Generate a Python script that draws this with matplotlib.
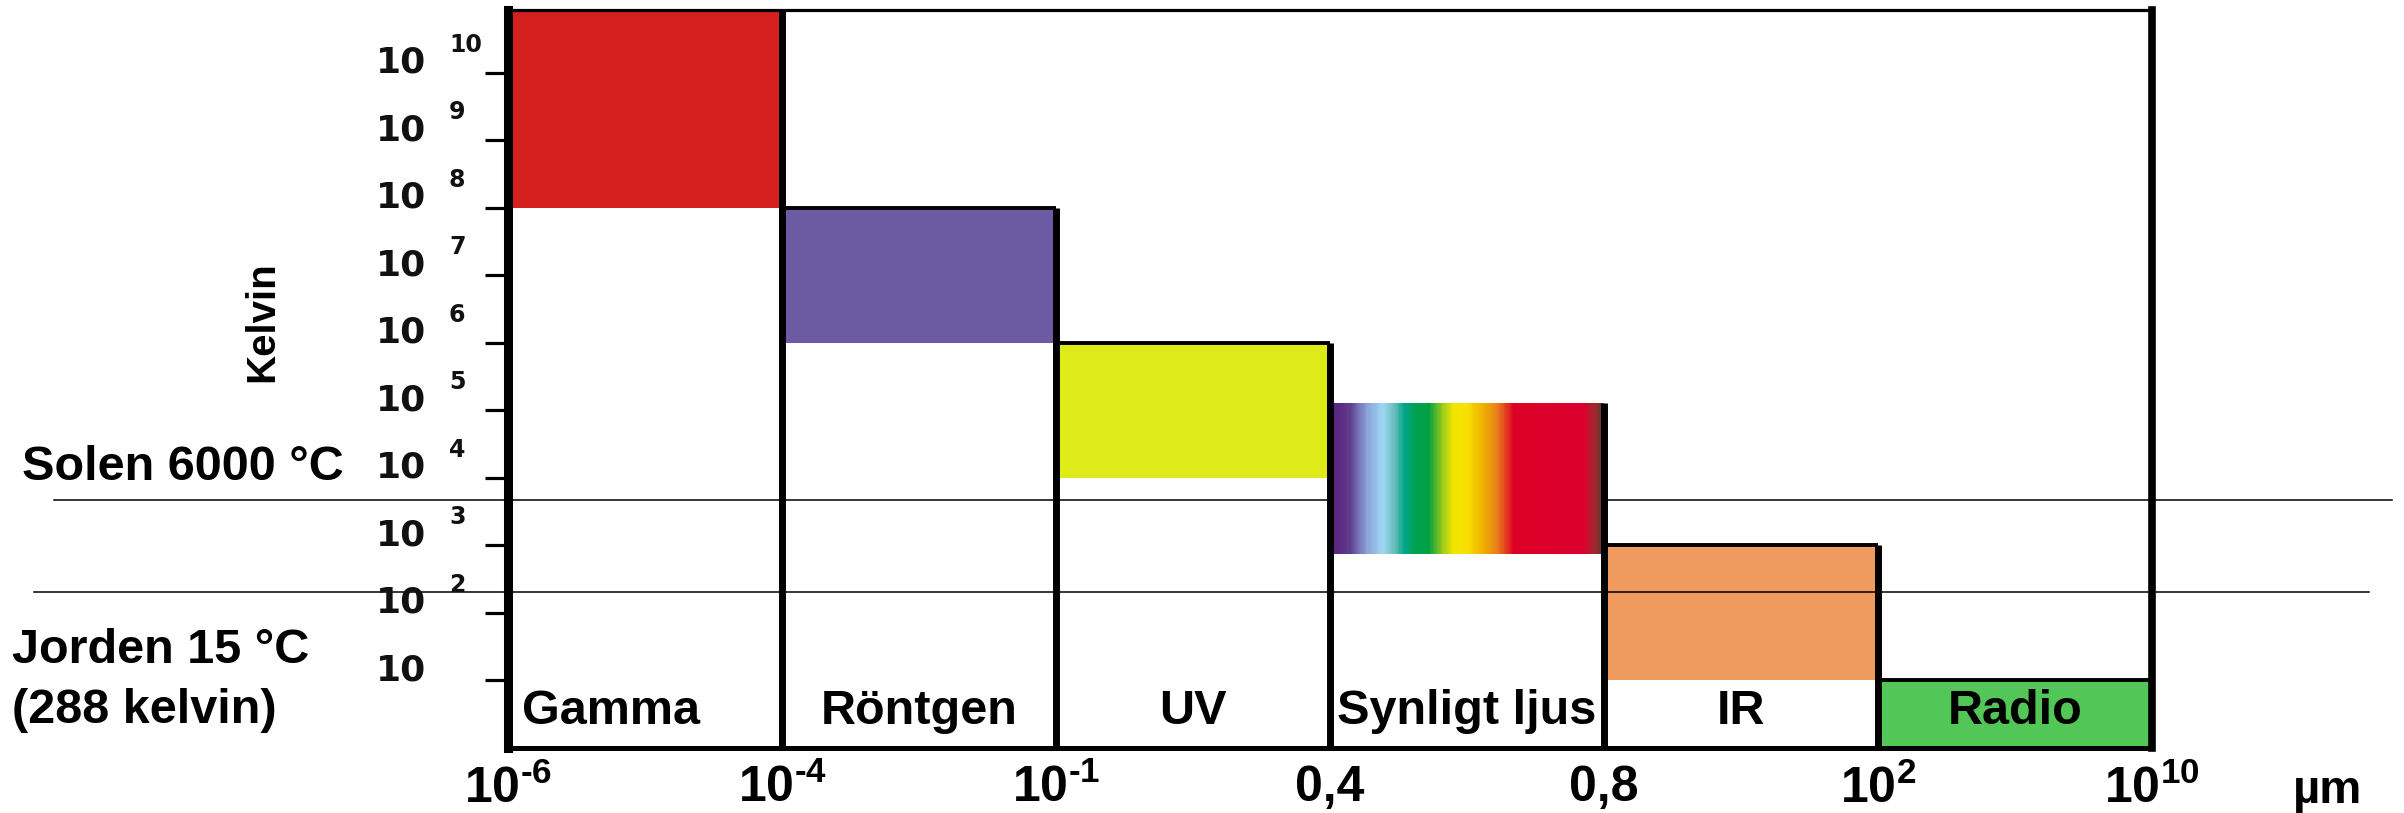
from __future__ import annotations

import matplotlib

matplotlib.use("Agg")
import matplotlib.pyplot as plt
import matplotlib.transforms as mtransforms
import numpy as np
from matplotlib import font_manager
from matplotlib.colors import LinearSegmentedColormap
from matplotlib.ticker import NullLocator

# --- data -----------------------------------------------------------------
boundary_labels = [
    "$\\mathbf{10^{\u20106}}$",
    "$\\mathbf{10^{\u20104}}$",
    "$\\mathbf{10^{\u20101}}$",
    "0,4",
    "0,8",
    r"$\mathbf{10^{2}}$",
    r"$\mathbf{10^{10}}$",
]
band_names = ["Gamma", "Röntgen", "UV", "Synligt ljus", "IR", "Radio"]
band_low = [1e8, 1e6, 1e4, 7.5e2, 1e1, 1e0]
band_high = [10**10.93, 1e8, 1e6, 1.3e5, 1e3, 1e1]
band_colors = ["#D5201F", "#6C5BA3", "#DFEB19", None, "#EF9B5F", "#52C757"]
band_top_edge = [False, True, True, False, True, True]

kelvin_exponents = list(range(1, 11))
sun_kelvin = 4.7e3
earth_kelvin = 2.05e2

spectrum_stops = [
    (0.00, "#5B1E7C"), (0.07, "#5E3C8E"), (0.13, "#8AA0D8"), (0.19, "#9ED6F3"),
    (0.23, "#6FC0C0"), (0.27, "#00A58A"), (0.31, "#00A050"), (0.36, "#00A040"),
    (0.41, "#9CCB1C"), (0.45, "#F2E600"), (0.50, "#F6E000"), (0.56, "#F0B000"),
    (0.61, "#E8801A"), (0.65, "#E03020"), (0.67, "#DD0026"), (0.93, "#DC0030"),
    (0.97, "#A0282E"), (1.00, "#5A3A30"),
]


def _find_font(candidates: list[str]) -> str | None:
    available = {item.name for item in font_manager.fontManager.ttflist}
    for candidate in candidates:
        if candidate in available:
            return candidate
    return None


main_font = _find_font(["Liberation Sans", "Arial"]) or "DejaVu Sans"
narrow_font = _find_font(["Liberation Sans Narrow", "Arial Narrow"])
wide_font = "DejaVu Sans"
plt.rcParams["font.family"] = [main_font, "DejaVu Sans"]
plt.rcParams["mathtext.fontset"] = "custom"
plt.rcParams["mathtext.rm"] = main_font
plt.rcParams["mathtext.bf"] = f"{main_font}:bold"

W, H = 2404, 813
fig = plt.figure(figsize=(W / 100, H / 100), dpi=100)
ax = fig.add_axes([508 / W, (H - 748) / H, (2152 - 508) / W, (748 - 10) / H])
ax.set_yscale("log")
ax.set_xlim(0, len(band_names))
ax.set_ylim(1, band_high[0])

# colour bands
for i, (lo, hi, col) in enumerate(zip(band_low, band_high, band_colors)):
    if col is not None:
        ax.bar(i, hi - lo, bottom=lo, width=1, align="edge", color=col,
               linewidth=0, zorder=2)

# visible light gradient
cmap = LinearSegmentedColormap.from_list("spectrum", spectrum_stops)
vis = band_names.index("Synligt ljus")
n_strips = 300
strip_x = vis + np.arange(n_strips) / n_strips
ax.bar(strip_x, band_high[vis] - band_low[vis], bottom=band_low[vis],
       width=1 / n_strips * 1.05, align="edge",
       color=cmap(np.linspace(0, 1, n_strips)), linewidth=0, zorder=2)

# step outlines
for i, hi in enumerate(band_high):
    if band_top_edge[i]:
        ax.hlines(hi, i, i + 1, color="black", lw=2.8, zorder=3)
    ax.vlines(i + 1, 1, hi, color="black", lw=5, zorder=3)

for side, lw in {"left": 6.5, "bottom": 3.6, "top": 2.3, "right": 5.5}.items():
    ax.spines[side].set_linewidth(lw)
    ax.spines[side].set_zorder(4)

# band names
name_trans = mtransforms.blended_transform_factory(ax.transData, ax.transAxes)
for i, name in enumerate(band_names):
    if i == 0:
        x, ha = i + 0.05, "left"
    else:
        x, ha = i + 0.5, "center"
    ax.text(x, 0.033, name, transform=name_trans, ha=ha, va="baseline",
            fontsize=35, fontweight="bold", zorder=5)

# y axis: ticks with custom labels
ax.set_yticks([10.0**e for e in kelvin_exponents])
ax.yaxis.set_minor_locator(NullLocator())
ax.set_yticklabels([])
ax.tick_params(axis="y", direction="out", length=16.5, width=2.3)
lab_trans = mtransforms.blended_transform_factory(fig.transFigure, ax.transData)
exp_trans = mtransforms.offset_copy(lab_trans, fig=fig, y=21, units="dots")
for e in kelvin_exponents:
    fig.text(376 / W, 10.0**e, "10", transform=lab_trans, ha="left",
             va="baseline", fontsize=26, fontweight="bold", family=wide_font,
             color="#111111")
    if e > 1:
        fig.text(449 / W, 10.0**e, str(e), transform=exp_trans, ha="left",
                 va="baseline", fontsize=17, fontweight="bold",
                 family=wide_font, color="#111111")

# x axis labels at the band boundaries
ax.set_xticks(range(len(boundary_labels)))
ax.set_xticklabels(boundary_labels, fontsize=36, fontweight="bold")
ax.tick_params(axis="x", length=0, pad=12)
fig.text(2328 / W, (H - 803) / H, "µm", ha="center", va="baseline",
         fontsize=34, fontweight="bold")

# reference temperature lines
line_trans = mtransforms.blended_transform_factory(fig.transFigure, ax.transData)
ax.plot([54 / W, 2392 / W], [sun_kelvin, sun_kelvin], color="black", lw=1.1,
        transform=line_trans, clip_on=False, zorder=1.5)
ax.plot([34 / W, 2369 / W], [earth_kelvin, earth_kelvin], color="black",
        lw=1.1, transform=line_trans, clip_on=False, zorder=4)

if narrow_font is not None:
    fig.text(262 / W, 1 - 322 / H, "Kelvin", rotation=90, ha="center",
             va="center", fontsize=34, fontweight="bold",
             family=[narrow_font, main_font])
else:
    fig.text(262 / W, 1 - 322 / H, "Kelvin", rotation=90, ha="center",
             va="center", fontsize=29, fontweight="bold")
fig.text(22 / W, (H - 480) / H, "Solen 6000 °C", ha="left", va="baseline",
         fontsize=35, fontweight="bold")
fig.text(12 / W, (H - 663) / H, "Jorden 15 °C", ha="left", va="baseline",
         fontsize=35, fontweight="bold")
fig.text(12 / W, (H - 723) / H, "(288 kelvin)", ha="left", va="baseline",
         fontsize=35, fontweight="bold")

fig.savefig("out.png", dpi=100, facecolor="white")
plt.close(fig)
